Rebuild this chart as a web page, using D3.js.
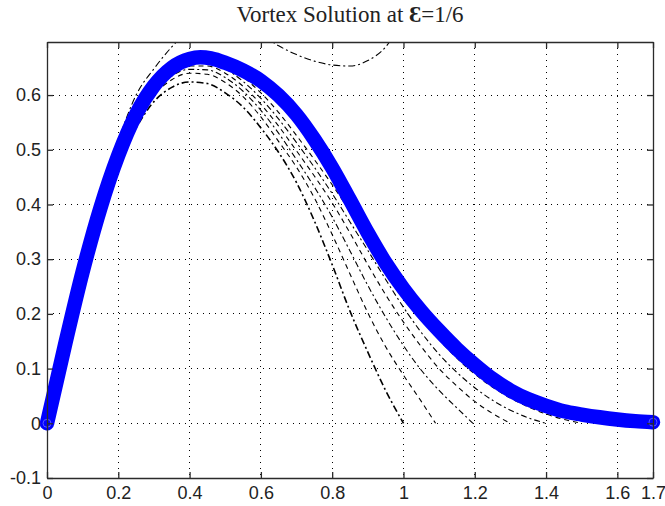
<!DOCTYPE html>
<html>
<head>
<meta charset="utf-8">
<script src="https://cdn.jsdelivr.net/npm/d3@7"></script>
<style>
  body { margin: 0; background: #fff; }
  svg { display: block; }
</style>
</head>
<body>
<div id="chart"></div>
<script>
// chart values
var xTicks = [0, 0.2, 0.4, 0.6, 0.8, 1, 1.2, 1.4, 1.6, 1.7];
var yTicks = [-0.1, 0, 0.1, 0.2, 0.3, 0.4, 0.5, 0.6];

// thick blue: the vortex solution
var solX = [0, 0.05, 0.1, 0.15, 0.2, 0.25, 0.3, 0.35, 0.4, 0.43, 0.46, 0.5, 0.55, 0.6, 0.65, 0.7, 0.75, 0.8, 0.85,
            0.9, 0.95, 1.0, 1.05, 1.1, 1.15, 1.2, 1.25, 1.3, 1.35, 1.4, 1.45, 1.5, 1.55, 1.6, 1.65, 1.7];
var solY = [0, 0.142, 0.277, 0.394, 0.49, 0.565, 0.617, 0.65, 0.666, 0.669, 0.667, 0.659, 0.645, 0.626, 0.599, 0.564,
            0.519, 0.467, 0.408, 0.348, 0.293, 0.246, 0.205, 0.169, 0.136, 0.107, 0.081, 0.06, 0.044, 0.032, 0.022,
            0.016, 0.011, 0.007, 0.004, 0.002];

// black approximations (dashed / dash-dot)
var apx0X = [0, 0.05, 0.1, 0.15, 0.2, 0.25, 0.3, 0.35, 0.4, 0.45, 0.5, 0.55, 0.6, 0.65, 0.7, 0.75, 0.8, 0.85, 0.9, 0.95, 1.0];
var apx0Y = [0, 0.14, 0.278, 0.4, 0.515, 0.6, 0.648, 0.688, 0.72, 0.74, 0.745, 0.735, 0.712, 0.69, 0.674, 0.662, 0.655, 0.653, 0.663, 0.688, 0.74];

var apx1X = [0, 0.1, 0.2, 0.25, 0.3, 0.35, 0.4, 0.45, 0.5, 0.55, 0.6, 0.65, 0.7, 0.75, 0.8, 0.85, 0.9, 0.95, 1.0];
var apx1Y = [0, 0.272, 0.475, 0.54, 0.588, 0.614, 0.624, 0.621, 0.604, 0.578, 0.54, 0.495, 0.44, 0.37, 0.29, 0.205, 0.13, 0.06, 0];

var apx2X = [0, 0.1, 0.2, 0.3, 0.35, 0.4, 0.45, 0.5, 0.55, 0.6, 0.65, 0.7, 0.75, 0.8, 0.85, 0.9, 0.95, 1.0, 1.05, 1.09];
var apx2Y = [0, 0.274, 0.48, 0.6, 0.628, 0.64, 0.638, 0.623, 0.597, 0.56, 0.515, 0.468, 0.412, 0.345, 0.273, 0.202, 0.14, 0.088, 0.04, 0];

var apx3X = [0, 0.1, 0.2, 0.3, 0.35, 0.4, 0.45, 0.5, 0.55, 0.6, 0.65, 0.7, 0.75, 0.8, 0.85, 0.9, 0.95, 1.0, 1.05, 1.1, 1.15, 1.195];
var apx3Y = [0, 0.275, 0.483, 0.605, 0.635, 0.647, 0.646, 0.632, 0.607, 0.572, 0.53, 0.482, 0.432, 0.377, 0.315, 0.252, 0.194, 0.142, 0.097, 0.06, 0.028, 0];

var apx4X = [0, 0.1, 0.2, 0.3, 0.35, 0.4, 0.45, 0.5, 0.55, 0.6, 0.65, 0.7, 0.75, 0.8, 0.85, 0.9, 0.95, 1.0, 1.05, 1.1, 1.15, 1.2, 1.25, 1.3];
var apx4Y = [0, 0.276, 0.486, 0.61, 0.64, 0.653, 0.653, 0.64, 0.616, 0.583, 0.543, 0.498, 0.452, 0.403, 0.348, 0.29, 0.235, 0.185, 0.14, 0.1, 0.068, 0.04, 0.018, 0];

var apx5X = [0, 0.1, 0.2, 0.3, 0.35, 0.4, 0.45, 0.5, 0.55, 0.6, 0.65, 0.7, 0.75, 0.8, 0.85, 0.9, 0.95, 1.0, 1.05, 1.1, 1.15, 1.2, 1.25, 1.3, 1.35, 1.4];
var apx5Y = [0, 0.276, 0.487, 0.612, 0.643, 0.657, 0.659, 0.648, 0.625, 0.594, 0.556, 0.513, 0.468, 0.42, 0.368, 0.316, 0.263, 0.212, 0.166, 0.126, 0.093, 0.065, 0.042, 0.024, 0.01, 0];

var apx6X = [0, 0.1, 0.2, 0.3, 0.35, 0.4, 0.45, 0.5, 0.55, 0.6, 0.65, 0.7, 0.75, 0.8, 0.85, 0.9, 0.95, 1.0, 1.05, 1.1, 1.15, 1.2, 1.25, 1.3, 1.35, 1.4, 1.45, 1.5];
var apx6Y = [0, 0.277, 0.488, 0.614, 0.646, 0.66, 0.663, 0.654, 0.633, 0.604, 0.568, 0.526, 0.482, 0.436, 0.387, 0.337, 0.287, 0.238, 0.193, 0.153, 0.119, 0.09, 0.066, 0.046, 0.03, 0.017, 0.007, 0];

var width = 665, height = 506;
var boxL = 47, boxR = 653, boxT = 42, boxB = 478;

var svg = d3.select("#chart").append("svg")
    .attr("width", width)
    .attr("height", height);

var x = d3.scaleLinear().domain([0, 1.7]).range([boxL, boxR]);
var y = d3.scaleLinear().domain([-0.1, 0.697]).range([boxB, boxT]);

svg.append("defs").append("clipPath").attr("id", "box")
  .append("rect")
    .attr("x", boxL).attr("y", boxT)
    .attr("width", boxR - boxL).attr("height", boxB - boxT);

// dotted grid
var grid = svg.append("g").attr("class", "grid");
grid.selectAll("line.gx")
    .data(xTicks.filter(function(d){ return d > 0 && d < 1.7; }))
  .enter().append("line")
    .attr("class", "gx")
    .attr("x1", function(d){ return x(d); })
    .attr("x2", function(d){ return x(d); })
    .attr("y1", boxT).attr("y2", boxB);
grid.selectAll("line.gy")
    .data(yTicks.filter(function(d){ return d > -0.1; }))
  .enter().append("line")
    .attr("class", "gy")
    .attr("y1", function(d){ return y(d); })
    .attr("y2", function(d){ return y(d); })
    .attr("x1", boxL).attr("x2", boxR);
grid.selectAll("line")
    .style("stroke", "#000")
    .style("stroke-width", 1)
    .style("stroke-dasharray", "1,5")
    .attr("shape-rendering", "crispEdges");

var line = d3.line()
    .x(function(d){ return x(d[0]); })
    .y(function(d){ return y(d[1]); })
    .curve(d3.curveMonotoneX);

function pairs(xs, ys){
    return xs.map(function(v, i){ return [v, ys[i]]; });
}

// black approximations
var approx = [
    {pts: pairs(apx0X, apx0Y), dash: "7,3,2,3", w: 1.1},
    {pts: pairs(apx1X, apx1Y), dash: "7,3,2,3", w: 1.6},
    {pts: pairs(apx2X, apx2Y), dash: "5,4", w: 1.1},
    {pts: pairs(apx3X, apx3Y), dash: "6,3,2,3", w: 1.1},
    {pts: pairs(apx4X, apx4Y), dash: "5,4", w: 1.1},
    {pts: pairs(apx5X, apx5Y), dash: "6,3,2,3", w: 1.1},
    {pts: pairs(apx6X, apx6Y), dash: "5,4", w: 1.1}
];
svg.append("g").attr("clip-path", "url(#box)")
  .selectAll("path")
    .data(approx)
  .enter().append("path")
    .attr("d", function(d){ return line(d.pts); })
    .style("fill", "none")
    .style("stroke", "#000")
    .style("stroke-width", function(d){ return d.w; })
    .style("stroke-dasharray", function(d){ return d.dash; });

// blue solution on top
var sol = pairs(solX, solY);
svg.append("path")
    .datum(sol)
    .attr("d", line)
    .style("fill", "none")
    .style("stroke", "#0000ff")
    .style("stroke-width", 14.5)
    .style("stroke-linecap", "round")
    .style("stroke-linejoin", "round");

svg.selectAll("circle.end")
    .data([sol[0], sol[sol.length - 1]])
  .enter().append("circle")
    .attr("class", "end")
    .attr("cx", function(d){ return x(d[0]); })
    .attr("cy", function(d){ return y(d[1]); })
    .attr("r", 4)
    .style("fill", "none")
    .style("stroke", "#5a5aff")
    .style("stroke-width", 1);

// axes, MATLAB style ticks pointing inwards
var fmt = function(d){ return String(d); };
var axes = [
    svg.append("g").attr("transform", "translate(0," + boxB + ")")
        .call(d3.axisBottom(x).tickValues(xTicks).tickFormat(fmt).tickSizeInner(-6).tickSizeOuter(0).tickPadding(8)),
    svg.append("g").attr("transform", "translate(0," + boxT + ")")
        .call(d3.axisTop(x).tickValues(xTicks).tickFormat("").tickSizeInner(-6).tickSizeOuter(0)),
    svg.append("g").attr("transform", "translate(" + boxL + ",0)")
        .call(d3.axisLeft(y).tickValues(yTicks).tickFormat(fmt).tickSizeInner(-6).tickSizeOuter(0).tickPadding(6)),
    svg.append("g").attr("transform", "translate(" + boxR + ",0)")
        .call(d3.axisRight(y).tickValues(yTicks).tickFormat("").tickSizeInner(-6).tickSizeOuter(0))
];
axes.forEach(function(g){
    g.select(".domain").style("stroke", "#2b2b2b").style("stroke-width", 1.3);
    g.selectAll(".tick line").style("stroke", "#2b2b2b").style("stroke-width", 1.3);
    g.selectAll(".tick text")
        .style("font-family", "'Liberation Sans', Arial, sans-serif")
        .style("font-size", "18px")
        .style("fill", "#222");
});

// title
var title = svg.append("text")
    .attr("x", (boxL + boxR) / 2)
    .attr("y", 22)
    .attr("text-anchor", "middle")
    .style("font-family", "'Liberation Serif', 'Times New Roman', serif")
    .style("font-size", "23px")
    .style("fill", "#222");
title.append("tspan").text("Vortex Solution at ");
title.append("tspan").text("Ɛ").style("font-weight", "bold");
title.append("tspan").text("=1/6");
</script>
</body>
</html>
